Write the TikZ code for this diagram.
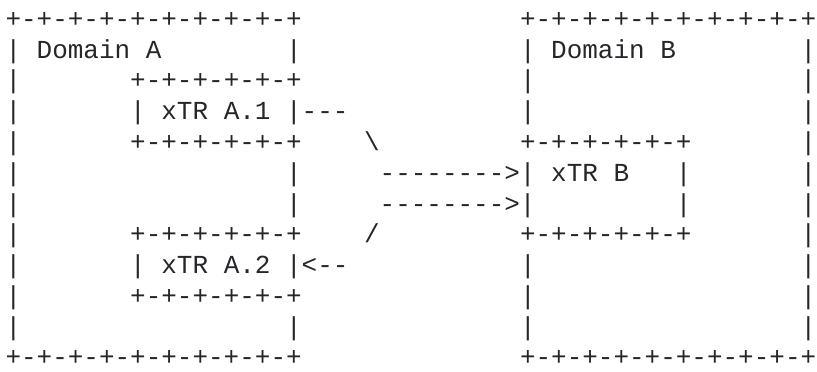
\documentclass[tikz,border=0pt]{standalone}
\usepackage{fontspec}
\setmonofont{Liberation Mono}
\definecolor{ink}{RGB}{36,38,41}
% one unit in x is one character cell, one unit in y is one text line
\tikzset{
  txt/.style={anchor=base west, inner sep=0pt, outer sep=0pt, text=ink,
    font=\ttfamily\fontsize{19.485pt}{23pt}\selectfont},
}
% \seg{line}{column}{text}
\newcommand\seg[3]{\node[txt] (s-#1-#2) at (#2,#1) {#3};}
\begin{document}
\begin{tikzpicture}[x=11.6925pt, y=-23.0625pt]
  \useasboundingbox (-0.3528,-0.894) rectangle (52.05,11.171);
  % line 0
  \seg{0}{0}{+-+-+-+-+-+-+-+-+-+}
  \seg{0}{33}{+-+-+-+-+-+-+-+-+-+}
  % line 1
  \seg{1}{0}{|}  \seg{1}{2}{Domain A}  \seg{1}{18}{|}
  \seg{1}{33}{|} \seg{1}{35}{Domain B} \seg{1}{51}{|}
  % line 2
  \seg{2}{0}{|}  \seg{2}{8}{+-+-+-+-+-+}
  \seg{2}{33}{|} \seg{2}{51}{|}
  % line 3
  \seg{3}{0}{|}  \seg{3}{8}{|} \seg{3}{10}{xTR A.1} \seg{3}{18}{|---}
  \seg{3}{33}{|} \seg{3}{51}{|}
  % line 4
  \seg{4}{0}{|}  \seg{4}{8}{+-+-+-+-+-+} \seg{4}{23}{\textbackslash}
  \seg{4}{33}{+-+-+-+-+-+} \seg{4}{51}{|}
  % line 5
  \seg{5}{0}{|}  \seg{5}{18}{|} \seg{5}{24}{-------->|}
  \seg{5}{35}{xTR B} \seg{5}{43}{|} \seg{5}{51}{|}
  % line 6
  \seg{6}{0}{|}  \seg{6}{18}{|} \seg{6}{24}{-------->|}
  \seg{6}{43}{|} \seg{6}{51}{|}
  % line 7
  \seg{7}{0}{|}  \seg{7}{8}{+-+-+-+-+-+} \seg{7}{23}{/}
  \seg{7}{33}{+-+-+-+-+-+} \seg{7}{51}{|}
  % line 8
  \seg{8}{0}{|}  \seg{8}{8}{|} \seg{8}{10}{xTR A.2} \seg{8}{18}{|<--}
  \seg{8}{33}{|} \seg{8}{51}{|}
  % line 9
  \seg{9}{0}{|}  \seg{9}{8}{+-+-+-+-+-+}
  \seg{9}{33}{|} \seg{9}{51}{|}
  % line 10
  \seg{10}{0}{|}  \seg{10}{18}{|}
  \seg{10}{33}{|} \seg{10}{51}{|}
  % line 11
  \seg{11}{0}{+-+-+-+-+-+-+-+-+-+}
  \seg{11}{33}{+-+-+-+-+-+-+-+-+-+}
\end{tikzpicture}
\end{document}
